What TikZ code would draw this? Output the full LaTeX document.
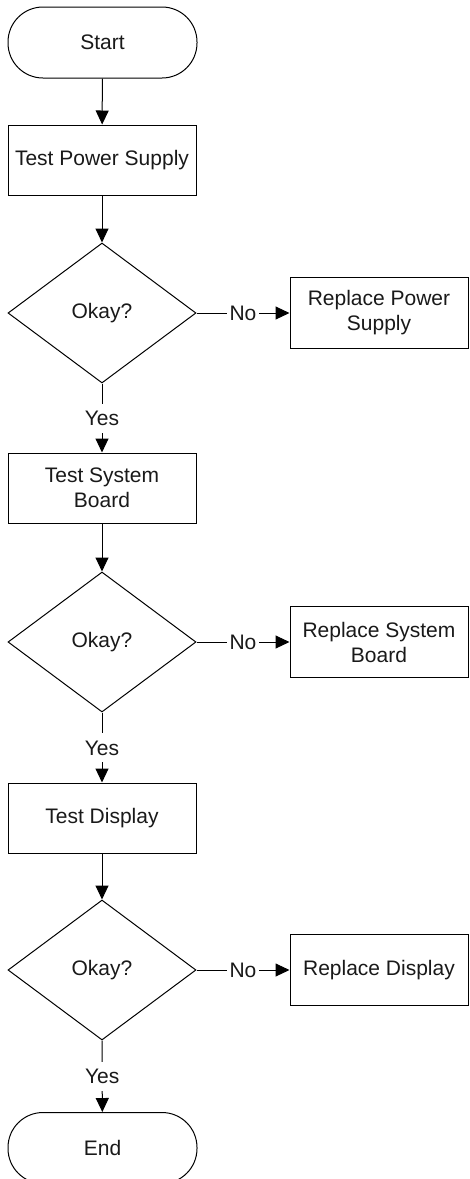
\documentclass[tikz,border=0pt]{standalone}
\usepackage{fontspec}
\setmainfont{Liberation Sans}
\usetikzlibrary{shapes.geometric,arrows.meta}
\begin{document}
\begin{tikzpicture}[x=1pt,y=-1pt,
  every node/.style={font=\fontsize{21}{25}\selectfont, text=black!90},
  base/.style={draw=black, line width=1pt, inner sep=0pt, align=center},
  terminal/.style={base, rectangle, rounded corners=35pt, minimum width=189pt, minimum height=71pt},
  procbox/.style={base, rectangle, minimum width=188pt, minimum height=70pt},
  sidebox/.style={base, rectangle, minimum width=178pt, minimum height=71pt},
  decision/.style={base, diamond, minimum width=188pt, minimum height=140pt},
  arr/.style={line width=1pt, -{Triangle[length=14pt,width=13pt]}},
  lbl/.style={fill=white, inner xsep=2.5pt, inner ysep=7pt, text height=15pt, text depth=0pt, draw=none}
]
\useasboundingbox (0,0) rectangle (469,1179);
\node[terminal] (start) at (102.5,42.5) {Start};
\node[procbox] (b1) at (102,160) {Test Power Supply};
\node[decision] (d1) at (102,313) {Okay?};
\node[sidebox] (r1) at (379,312.5) {Replace Power\\Supply};
\node[procbox] (b2) at (102,488) {Test System\\Board};
\node[decision] (d2) at (102,642) {Okay?};
\node[sidebox] (r2) at (379,642) {Replace System\\Board};
\node[procbox] (b3) at (102,818) {Test Display};
\node[decision] (d3) at (102,970) {Okay?};
\node[sidebox] (r3) at (379,970) {Replace Display};
\node[terminal] (end) at (102.5,1148) {End};

\draw[arr] (start) -- (b1);
\draw[arr] (b1) -- (d1);
\draw[arr] (d1.east) -- node[lbl]{No} (r1.west |- d1.east);
\draw[arr] (d1.south) -- node[lbl]{Yes} (b2);
\draw[arr] (b2) -- (d2);
\draw[arr] (d2.east) -- node[lbl]{No} (r2);
\draw[arr] (d2.south) -- node[lbl]{Yes} (b3);
\draw[arr] (b3) -- (d3);
\draw[arr] (d3.east) -- node[lbl]{No} (r3);
\draw[arr] (d3.south) -- node[lbl]{Yes} (end);
\end{tikzpicture}
\end{document}
